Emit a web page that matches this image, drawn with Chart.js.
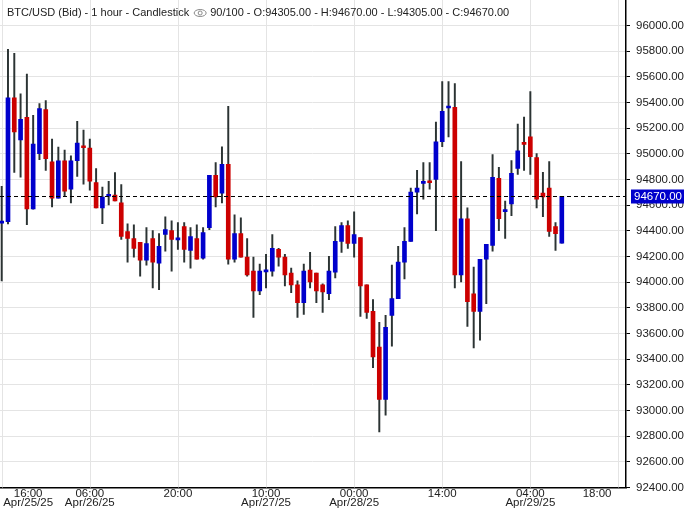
<!DOCTYPE html>
<html>
<head>
<meta charset="utf-8">
<script src="https://cdn.jsdelivr.net/npm/chart.js@4.4.1/dist/chart.umd.min.js"></script>
<style>
  body { margin: 0; background: #fff; }
  #wrap { position: relative; width: 686px; height: 509px; }
</style>
</head>
<body>
<div id="wrap"><canvas id="candles"></canvas></div>
<script>
// hourly BTC/USD bid candles, oldest first (90 bars)
const opens = [94460,94471,95438,95110,95285,94572,95002,95346,94938,94656,94946,94725,94948,95062,95046,94777,94579,94670,94679,94618,
  94395,94341,94310,94172,94341,94149,94372,94402,94330,94433,94248,94341,94187,94425,94833,94695,94918,94180,94379,94195,
  94087,93933,94080,94087,94256,94195,94072,93979,93841,94095,94072,93979,93910,94079,94318,94441,94302,94348,93979,93772,
  93495,93087,93741,93872,94156,94318,94702,94770,94785,94802,95095,95358,95364,94056,94495,93910,93772,94179,94287,94810,
  94550,94610,94887,95080,95133,94972,94695,94733,94433,94305];
const closes = [94470,95438,95172,95269,94572,95077,95354,94964,94656,94946,94710,94946,95085,95048,94787,94579,94664,94680,94633,94356,
  94341,94264,94172,94302,94156,94279,94410,94333,94340,94256,94356,94180,94387,94833,94664,94918,94180,94379,94195,94056,
  93933,94087,94085,94264,94195,94056,93979,93841,94087,94002,93933,93925,94087,94318,94441,94302,94372,93972,93764,93418,
  93087,93649,93872,94156,94318,94702,94733,94780,94775,95095,95333,95366,94056,94495,93849,93772,94179,94295,94818,94495,
  94560,94848,95025,95074,94979,94648,94664,94395,94379,94670];
const highs = [94748,95815,95785,95469,95623,95300,95392,95415,95115,95054,95031,94985,95254,95185,95115,94885,94741,94787,94854,94762,
  94456,94448,94310,94425,94402,94379,94510,94479,94464,94464,94425,94448,94425,94833,94933,95056,95372,94525,94502,94341,
  94195,94141,94218,94372,94264,94218,94110,94010,94141,94233,94072,93987,94202,94433,94464,94479,94548,94348,93979,93864,
  93687,93741,94133,94279,94425,94733,94872,94933,94933,95248,95564,95564,95548,94941,94579,94118,94179,94295,94995,94895,
  94633,94948,95233,95287,95487,95002,94856,94941,94464,94670];
const lows = [94010,94454,94856,94818,94448,94569,94956,94872,94587,94656,94672,94618,94825,94764,94718,94579,94456,94602,94633,94333,
  94156,94195,94048,94133,93956,93941,94241,94087,94256,94156,94110,94180,94180,94410,94587,94618,94141,94156,94195,94048,
  93725,93902,93956,94048,94125,93972,93918,93725,93748,93956,93841,93764,93864,94033,94233,94264,94195,93733,93718,93333,
  92833,92964,93502,93872,94025,94318,94533,94648,94725,94402,95056,95133,93956,94002,93656,93487,93549,93833,94241,94402,
  94341,94518,94841,94872,94841,94579,94510,94356,94248,94305];

// x-axis labels (candle index -> text) and vertical grid positions
const tickIdx = [4.2, 14, 28, 42, 56, 70, 84, 94.6];
const tickText = [["16:00","Apr/25/25"],["06:00","Apr/26/25"],"20:00",["10:00","Apr/27/25"],
  ["00:00","Apr/28/25"],"14:00",["04:00","Apr/29/25"],"18:00"];
const gridIdx = [0, 14, 28, 42, 56, 70, 84, 98];

const lastClose = closes[closes.length - 1];
const UP = "#0000cc", DOWN = "#cc0000", WICK = "#2b3333";
const FONT = "'Liberation Sans Narrow', 'Liberation Sans', Arial, sans-serif";

const up = closes.map((c, i) => c >= opens[i]);

const overlay = {
  id: "overlay",
  beforeDatasetsDraw(chart) {
    const { ctx, chartArea: a, scales } = chart;
    ctx.save();
    ctx.strokeStyle = "#e4e4e4";
    ctx.lineWidth = 1;
    gridIdx.forEach(v => {
      const x = Math.round(scales.x.getPixelForValue(v)) + 0.5;
      ctx.beginPath(); ctx.moveTo(x, a.top); ctx.lineTo(x, a.bottom); ctx.stroke();
    });
    ctx.restore();
  },
  afterDatasetsDraw(chart) {
    const { ctx, chartArea: a, scales } = chart;
    const y = Math.round(scales.y.getPixelForValue(lastClose)) + 0.5;
    ctx.save();
    // last price dashed line
    ctx.strokeStyle = "#000";
    ctx.setLineDash([4, 3]);
    ctx.beginPath(); ctx.moveTo(a.left, y); ctx.lineTo(a.right, y); ctx.stroke();
    ctx.setLineDash([]);
    // title
    ctx.font = "11px " + FONT;
    ctx.fillStyle = "#222";
    ctx.textBaseline = "middle";
    const t1 = "BTC/USD (Bid) - 1 hour - Candlestick";
    ctx.fillText(t1, 7, 13);
    let x = 7 + ctx.measureText(t1).width + 5;
    ctx.strokeStyle = "#888";
    ctx.beginPath(); ctx.ellipse(x + 6, 13, 6, 3.5, 0, 0, Math.PI * 2); ctx.stroke();
    ctx.beginPath(); ctx.arc(x + 6, 13, 2, 0, Math.PI * 2); ctx.stroke();
    ctx.fillText("90/100 - O:94305.00 - H:94670.00 - L:94305.00 - C:94670.00", x + 16, 13);
    // last price box on axis
    ctx.fillStyle = UP;
    ctx.fillRect(a.right + 5, y - 7, 53, 14);
    ctx.fillStyle = "#fff";
    ctx.font = "11.5px " + FONT;
    ctx.fillText(lastClose.toFixed(2), a.right + 8, y);
    ctx.restore();
  }
};

new Chart(document.getElementById("candles"), {
  type: "bar",
  data: {
    datasets: [
      {
        label: "body",
        data: opens.map((o, i) => ({ x: i, y: [o, closes[i]] })),
        backgroundColor: up.map(u => (u ? UP : DOWN)),
        barThickness: 4,
        minBarLength: 2,
        grouped: false,
        order: 1
      },
      {
        label: "wick",
        data: lows.map((l, i) => ({ x: i, y: [l, highs[i]] })),
        backgroundColor: WICK,
        barThickness: 1.3,
        grouped: false,
        order: 2
      }
    ]
  },
  options: {
    responsive: true,
    maintainAspectRatio: false,
    animation: false,
    layout: { padding: 0 },
    plugins: { legend: { display: false }, tooltip: { enabled: false } },
    scales: {
      x: {
        type: "linear",
        min: -0.27,
        max: 99.2,
        offset: false,
        afterBuildTicks: (s) => { s.ticks = tickIdx.map(v => ({ value: v })); },
        afterFit: (s) => { s.paddingLeft = 0; s.paddingRight = 0; },
        ticks: {
          autoSkip: false,
          maxRotation: 0,
          padding: 1,
          color: "#222",
          font: { family: FONT, size: 11.5, lineHeight: 0.85 },
          callback: (v, i) => tickText[i]
        },
        grid: { display: false, drawTicks: false },
        border: { color: "#000", width: 1.5 }
      },
      y: {
        position: "right",
        min: 92400,
        max: 96200,
        afterBuildTicks: (s) => {
          const t = [];
          for (let v = 92400; v <= 96000; v += 200) t.push({ value: v });
          s.ticks = t;
        },
        afterFit: (s) => { s.width = 60; s.paddingTop = 0; s.paddingBottom = 0; },
        ticks: {
          padding: 6,
          color: "#222",
          font: { family: FONT, size: 11.5 },
          callback: v => v.toFixed(2)
        },
        grid: { color: "#e4e4e4", tickLength: 4, tickColor: "#000" },
        border: { color: "#000", width: 1.5 }
      }
    }
  },
  plugins: [overlay]
});
</script>
</body>
</html>
